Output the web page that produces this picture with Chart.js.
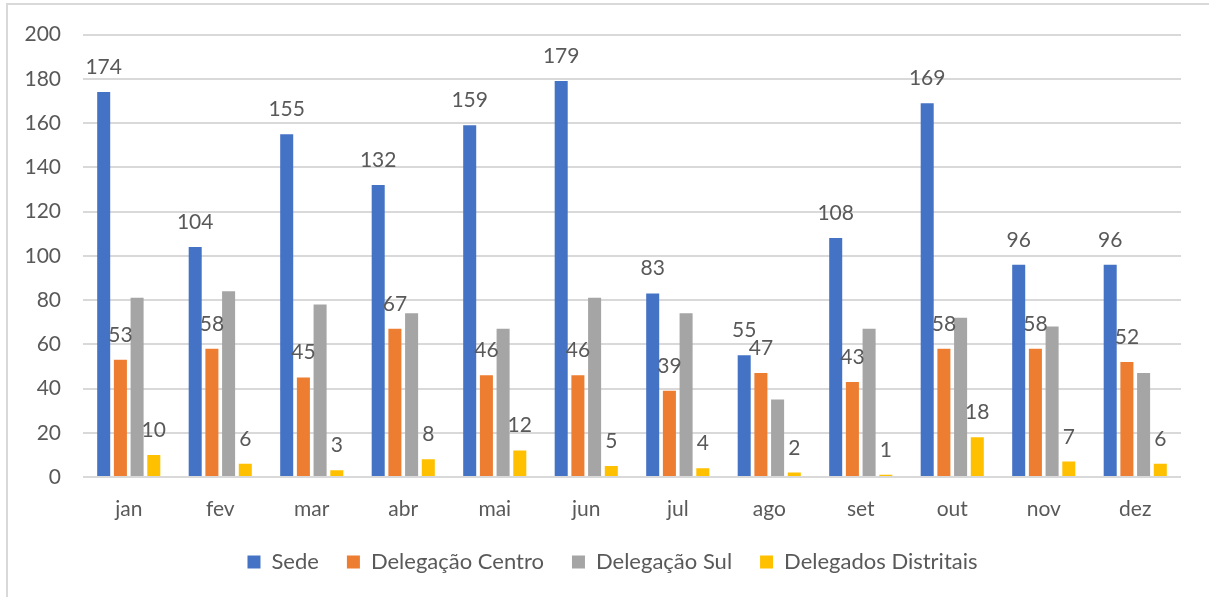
<!DOCTYPE html>
<html>
<head>
<meta charset="utf-8">
<script src="https://cdn.jsdelivr.net/npm/chart.js@4"></script>
<style>
    html, body { margin: 0; padding: 0; background: #fff; overflow: hidden; }
    #frame {
        position: absolute; left: 6px; top: 3px;
        width: 1300px; height: 700px;
        border: 2px solid #d9d9d9;
    }
    #wrap { position: absolute; left: 0; top: 0; width: 1209px; height: 597px; }
</style>
</head>
<body>
<div id="frame"></div>
<div id="wrap"><canvas id="chartMeses"></canvas></div>
<script>
const meses = ['jan', 'fev', 'mar', 'abr', 'mai', 'jun', 'jul', 'ago', 'set', 'out', 'nov', 'dez'];

const sede = [174, 104, 155, 132, 159, 179, 83, 55, 108, 169, 96, 96];
const delegacaoCentro = [53, 58, 45, 67, 46, 46, 39, 47, 43, 58, 58, 52];
const delegacaoSul = [81, 84, 78, 74, 67, 81, 74, 35, 67, 72, 68, 47];
const delegadosDistritais = [10, 6, 3, 8, 12, 5, 4, 2, 1, 18, 7, 6];

const yTicks = [0, 20, 40, 60, 80, 100, 120, 140, 160, 180, 200];

const fonte = 'Lato, "Open Sans", sans-serif';
const cinzaTexto = '#595959';

// rótulos de valor por cima das barras (a Delegação Sul não tem rótulos)
const rotulos = {
    id: 'rotulos',
    afterDatasetsDraw(chart) {
        const c = chart.ctx;
        c.save();
        c.font = '21px ' + fonte;
        c.fillStyle = cinzaTexto;
        c.textAlign = 'center';
        c.textBaseline = 'alphabetic';
        chart.data.datasets.forEach((ds, i) => {
            if (!ds.mostrarRotulos) return;
            chart.getDatasetMeta(i).data.forEach((bar, j) => {
                c.fillText(ds.data[j], bar.x, bar.y - 18);
            });
        });
        c.restore();
    }
};

// a legenda original está um pouco à direita do centro
const moverLegenda = {
    id: 'moverLegenda',
    afterLayout(chart) {
        chart.legend.left += 22;
        chart.legend.right += 22;
    }
};

const ctx = document.getElementById('chartMeses');

new Chart(ctx, {
    type: 'bar',
    data: {
        labels: meses,
        datasets: [
            { label: 'Sede', data: sede, backgroundColor: '#4472C4', mostrarRotulos: true },
            { label: 'Delegação Centro', data: delegacaoCentro, backgroundColor: '#ED7D31', mostrarRotulos: true },
            { label: 'Delegação Sul', data: delegacaoSul, backgroundColor: '#A5A5A5', mostrarRotulos: false },
            { label: 'Delegados Distritais', data: delegadosDistritais, backgroundColor: '#FFC000', mostrarRotulos: true }
        ]
    },
    options: {
        responsive: true,
        maintainAspectRatio: false,
        animation: false,
        datasets: {
            bar: { categoryPercentage: 0.73, barPercentage: 0.78 }
        },
        layout: {
            padding: { left: 0, right: 28, top: 33, bottom: 14 }
        },
        plugins: {
            tooltip: { enabled: false },
            legend: {
                position: 'bottom',
                labels: {
                    boxWidth: 13,
                    boxHeight: 13,
                    padding: 28,
                    color: cinzaTexto,
                    font: { family: fonte, size: 22 }
                }
            }
        },
        scales: {
            x: {
                grid: { display: false },
                border: { display: false },
                ticks: {
                    color: cinzaTexto,
                    padding: 12,
                    font: { family: fonte, size: 21 }
                },
                afterFit(scale) { scale.height = 46; }
            },
            y: {
                min: 0,
                max: 200,
                afterBuildTicks(scale) {
                    scale.ticks = yTicks.map(v => ({ value: v }));
                },
                grid: { color: '#d9d9d9', lineWidth: 2, drawTicks: false },
                border: { display: false },
                ticks: {
                    color: cinzaTexto,
                    padding: 22,
                    font: { family: fonte, size: 21 }
                },
                afterFit(scale) { scale.width = 83; }
            }
        }
    },
    plugins: [rotulos, moverLegenda]
});
</script>
</body>
</html>
